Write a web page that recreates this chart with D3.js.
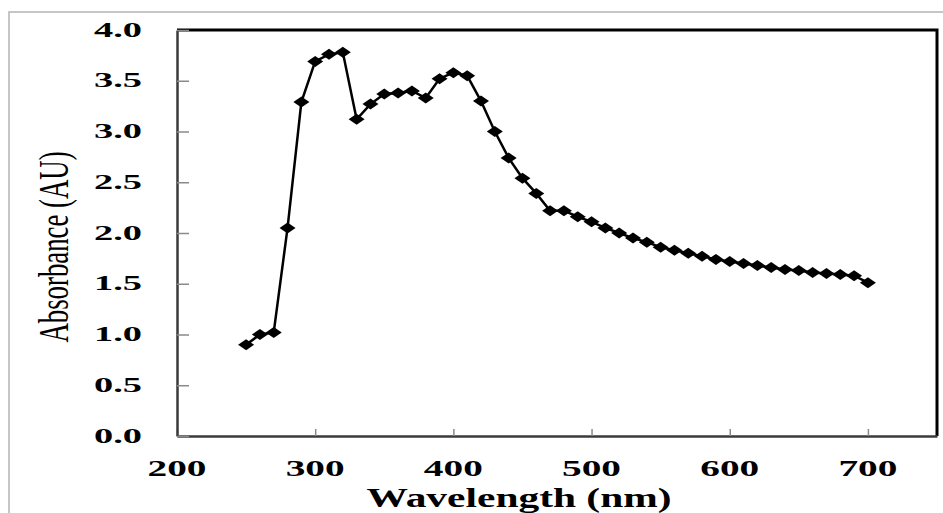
<!DOCTYPE html>
<html>
<head>
<meta charset="utf-8">
<script src="https://cdn.jsdelivr.net/npm/d3@7"></script>
<style>
  body { margin: 0; background: #fff; }
  svg { display: block; }
  text { font-family: "Liberation Serif", "Times New Roman", serif; fill: #000; }
</style>
</head>
<body>
<svg></svg>
<script>
// Absorbance spectrum
const wavelength = [250, 260, 270, 280, 290, 300, 310, 320, 330, 340,
    350, 360, 370, 380, 390, 400, 410, 420, 430, 440,
    450, 460, 470, 480, 490, 500, 510, 520, 530, 540,
    550, 560, 570, 580, 590, 600, 610, 620, 630, 640,
    650, 660, 670, 680, 690, 700];
const absorbance = [0.90, 1.00, 1.02, 2.05, 3.29, 3.69, 3.76, 3.78, 3.12, 3.27,
    3.37, 3.38, 3.40, 3.33, 3.52, 3.58, 3.55, 3.30, 3.00, 2.74,
    2.54, 2.39, 2.22, 2.22, 2.16, 2.11, 2.05, 2.00, 1.95, 1.91,
    1.86, 1.83, 1.80, 1.77, 1.74, 1.72, 1.70, 1.68, 1.66, 1.64,
    1.63, 1.61, 1.60, 1.59, 1.58, 1.51];
const xTicks = [200, 300, 400, 500, 600, 700];
const yTicks = [0, 0.5, 1.0, 1.5, 2.0, 2.5, 3.0, 3.5, 4.0];

const width = 943;
const height = 513;
const plot = { left: 177, top: 30, right: 937, bottom: 436 };

const svg = d3.select("svg")
    .attr("width", width)
    .attr("height", height);

// outer chart frame
svg.append("rect")
    .attr("x", 9).attr("y", 12)
    .attr("width", 1000).attr("height", 1000)
    .attr("fill", "none")
    .attr("stroke", "#b4b4b4")
    .attr("stroke-width", 1.5);

const x = d3.scaleLinear().domain([200, 750]).range([plot.left, plot.right]);
const y = d3.scaleLinear().domain([0, 4]).range([plot.bottom, plot.top]);

// top and right border
svg.append("path")
    .attr("d", `M${plot.left},${plot.top}H${plot.right}V${plot.bottom}`)
    .attr("fill", "none")
    .attr("stroke", "#000")
    .attr("stroke-width", 3);

// ticks point into the plot
const xAxis = svg.append("g")
    .attr("transform", `translate(0,${plot.bottom})`)
    .call(d3.axisBottom(x).tickValues(xTicks).tickSizeInner(-7).tickSizeOuter(0).tickFormat(""));
const yAxis = svg.append("g")
    .attr("transform", `translate(${plot.left},0)`)
    .call(d3.axisLeft(y).tickValues(yTicks).tickSizeInner(-12).tickSizeOuter(0).tickFormat(""));

[xAxis, yAxis].forEach(g => {
    g.select(".domain").attr("stroke", "#3a3a3a").attr("stroke-width", 2.5);
    g.selectAll(".tick line").attr("stroke", "#8a8a8a").attr("stroke-width", 1.5);
});

// tick labels (the picture is stretched sideways, so the text is too)
svg.append("g").selectAll("text")
    .data(yTicks)
    .join("text")
    .attr("transform", d => `translate(142,${y(d) + 6.5}) scale(1.92,1)`)
    .attr("text-anchor", "end")
    .attr("font-size", 20)
    .attr("font-weight", "bold")
    .text(d => d.toFixed(1));

svg.append("g").selectAll("text")
    .data(xTicks)
    .join("text")
    .attr("transform", d => `translate(${x(d)},476) scale(1.71,1)`)
    .attr("text-anchor", "middle")
    .attr("font-size", 23)
    .attr("font-weight", "bold")
    .text(d => d);

// axis titles
svg.append("text")
    .attr("transform", "translate(519,507) scale(1.48,1)")
    .attr("text-anchor", "middle")
    .attr("font-size", 28)
    .attr("font-weight", "bold")
    .text("Wavelength (nm)");

svg.append("text")
    .attr("transform", "translate(68,247) scale(1.55,1) rotate(-90)")
    .attr("text-anchor", "middle")
    .attr("font-size", 26.8)
    .text("Absorbance (AU)");

// series
const points = wavelength.map((w, i) => [w, absorbance[i]]);

svg.append("path")
    .datum(points)
    .attr("fill", "none")
    .attr("stroke", "#000")
    .attr("stroke-width", 2.5)
    .attr("d", d3.line().x(d => x(d[0])).y(d => y(d[1])));

svg.append("g").selectAll("path")
    .data(points)
    .join("path")
    .attr("transform", d => `translate(${x(d[0])},${y(d[1])})`)
    .attr("d", "M-8,0L0,-5.5L8,0L0,5.5Z")
    .attr("fill", "#000");
</script>
</body>
</html>
